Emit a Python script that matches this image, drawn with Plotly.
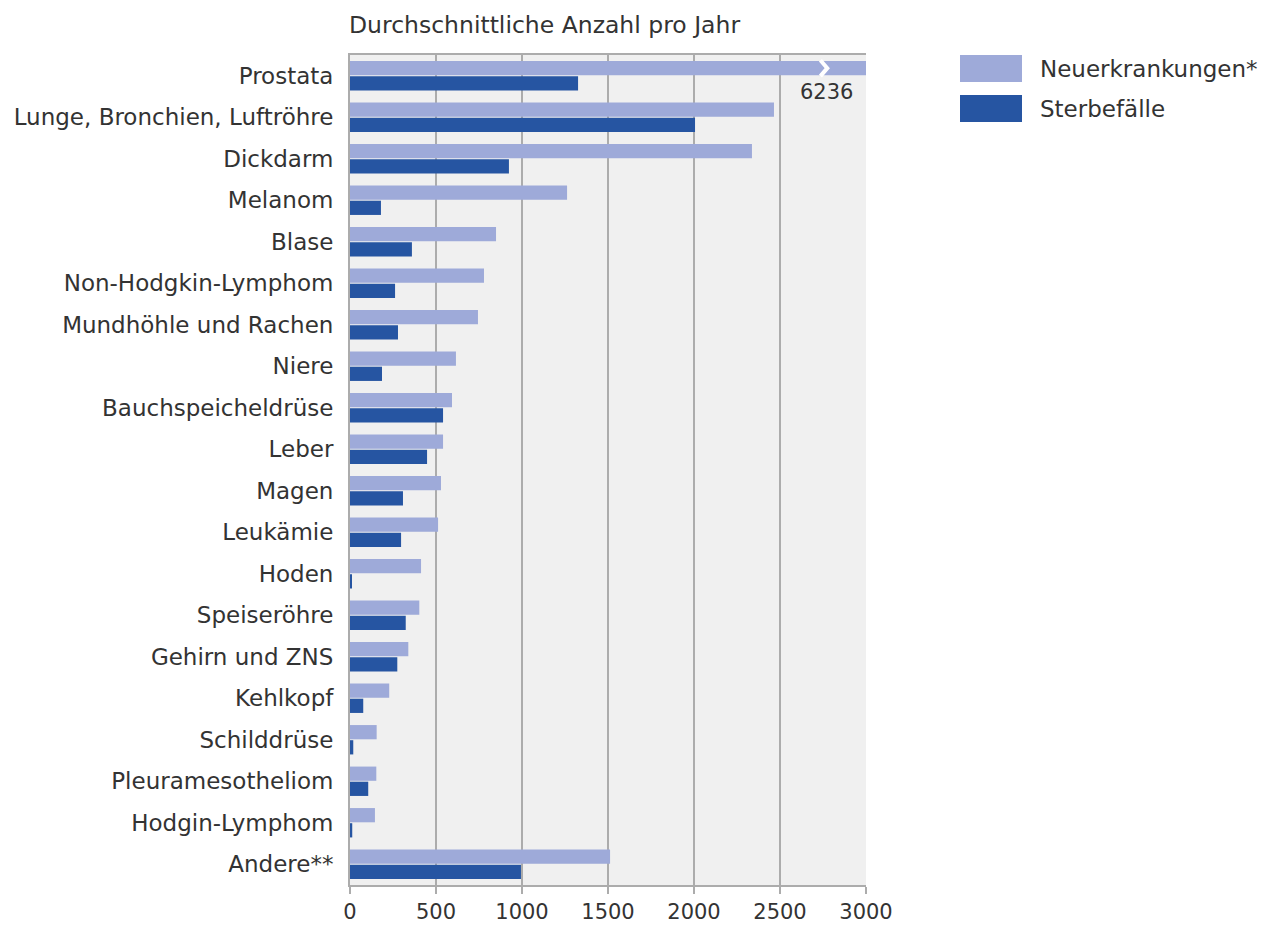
import plotly.graph_objects as go

categories = ["Prostata", "Lunge, Bronchien, Luftröhre", "Dickdarm", "Melanom", "Blase",
              "Non-Hodgkin-Lymphom", "Mundhöhle und Rachen", "Niere", "Bauchspeicheldrüse",
              "Leber", "Magen", "Leukämie", "Hoden", "Speiseröhre", "Gehirn und ZNS",
              "Kehlkopf", "Schilddrüse", "Pleuramesotheliom", "Hodgin-Lymphom", "Andere**"]
neuerkrankungen = [6236, 2465, 2337, 1262, 849, 779, 744, 616, 593, 541, 529, 512, 413, 403,
                   339, 228, 155, 153, 145, 1512]
sterbefaelle = [1326, 2006, 924, 180, 360, 262, 279, 186, 541, 448, 308, 297, 10, 324, 275,
                77, 19, 106, 13, 994]
x_ticks = [0, 500, 1000, 1500, 2000, 2500, 3000]

LIGHT = "#9eaad9"
DARK = "#2655a2"
TXT = "#333333"
FONT = "DejaVu Sans"
FS = 23

fig = go.Figure()
fig.add_trace(go.Bar(y=categories, x=neuerkrankungen, orientation="h", name="Neuerkrankungen*",
                     marker=dict(color=LIGHT, line=dict(width=0)), showlegend=False))
fig.add_trace(go.Bar(y=categories, x=sterbefaelle, orientation="h", name="Sterbefälle",
                     marker=dict(color=DARK, line=dict(width=0)), showlegend=False))

bargap = 0.27
groupgap = 0.06
# break marker on the clipped Prostata bar
bw = (1 - bargap) / 2
top = -(1 - bargap) / 2 + bw * groupgap / 2
bot = top + bw * (1 - groupgap)
mid = (top + bot) / 2
fig.add_shape(type="path", xref="x", yref="y",
              path=f"M 2735 {top-0.02} L 2775 {mid} L 2735 {bot+0.02}",
              line=dict(color="white", width=4), layer="above")
fig.add_annotation(x=2770, y=0.4, xref="x", yref="y", text=str(neuerkrankungen[0]),
                   showarrow=False, font=dict(family=FONT, size=21, color=TXT))

# custom legend
leg = [("Neuerkrankungen*", LIGHT, 0.0), ("Sterbefälle", DARK, 40)]
for name, col, dy in leg:
    fig.add_shape(type="rect", xref="paper", yref="paper",
                  x0=(960 - 350) / 516, x1=(1022 - 350) / 516,
                  y0=(885 - 55 - dy - 27) / 830, y1=(885 - 55 - dy) / 830,
                  fillcolor=col, line=dict(width=0))
    fig.add_annotation(xref="paper", yref="paper", x=(1038 - 350) / 516,
                       y=(885 - 55 - dy - 13.5) / 830, text=name, showarrow=False,
                       xanchor="left", yanchor="middle",
                       font=dict(family=FONT, size=FS, color=TXT))

fig.add_annotation(xref="paper", yref="paper", x=-0.005, y=1.0, yshift=14,
                   text="Durchschnittliche Anzahl pro Jahr", showarrow=False,
                   xanchor="left", yanchor="bottom", font=dict(family=FONT, size=23.5, color=TXT))

fig.update_layout(
    width=1262, height=925,
    margin=dict(l=350, r=396, t=55, b=40),
    barmode="group", bargap=bargap, bargroupgap=groupgap,
    plot_bgcolor="#f0f0f0", paper_bgcolor="white",
    font=dict(family=FONT, size=FS, color=TXT),
)
fig.update_xaxes(range=[0, 3000], tickvals=x_ticks, showgrid=True, gridcolor="#acacac",
                 gridwidth=2, zeroline=False, ticks="outside", ticklen=7, tickcolor="#acacac",
                 tickwidth=2, showline=True, linecolor="#acacac", linewidth=2, mirror=True,
                 tickfont=dict(size=21, color=TXT), automargin=False)
fig.update_yaxes(autorange="reversed", showgrid=False, ticks="", ticklabelstandoff=10,
                 showline=True, linecolor="#acacac", linewidth=2,
                 tickfont=dict(size=FS, color=TXT), automargin=False)

fig.write_html("out.html")
